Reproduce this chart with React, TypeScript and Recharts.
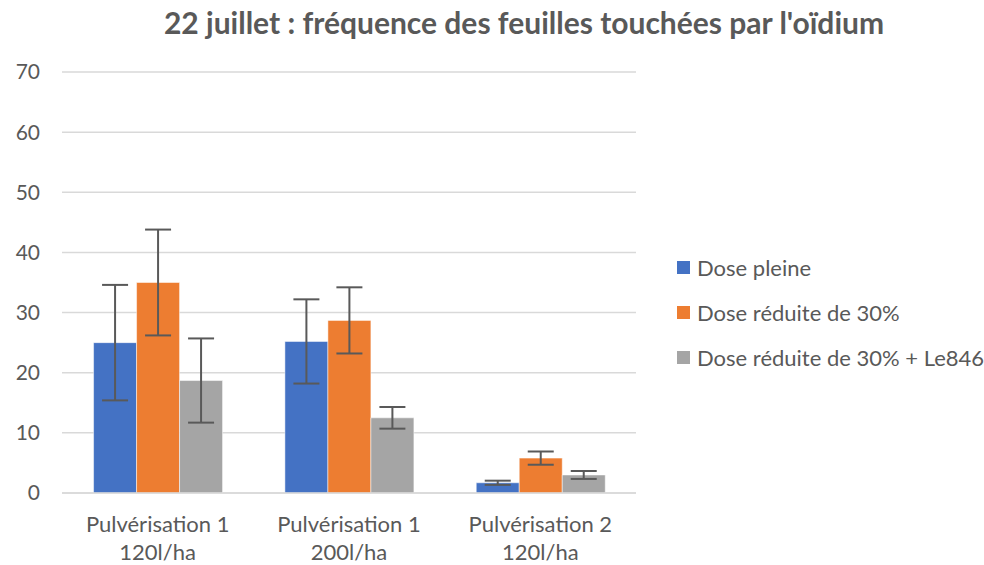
import {
  BarChart,
  Bar,
  XAxis,
  YAxis,
  CartesianGrid,
  ErrorBar,
} from "recharts";

const categories = ["Pulvérisation 1\n120l/ha", "Pulvérisation 1\n200l/ha", "Pulvérisation 2\n120l/ha"];
const dosePleine = [25, 25.2, 1.7];
const doseReduite = [35, 28.7, 5.8];
const doseLe846 = [18.7, 12.5, 3.0];
const errPleine = [9.6, 7, 0.35];
const errReduite = [8.8, 5.5, 1.1];
const errLe846 = [7, 1.8, 0.66];
const yTicks = [0, 10, 20, 30, 40, 50, 60, 70];

const series = [
  { key: "pleine", err: "pleineErr", name: "Dose pleine", color: "#4472C4" },
  { key: "reduite", err: "reduiteErr", name: "Dose réduite de 30%", color: "#ED7D31" },
  { key: "le846", err: "le846Err", name: "Dose réduite de 30% + Le846", color: "#A5A5A5" },
];

const data = categories.map((c, i) => ({
  name: c,
  pleine: dosePleine[i],
  reduite: doseReduite[i],
  le846: doseLe846[i],
  pleineErr: errPleine[i],
  reduiteErr: errReduite[i],
  le846Err: errLe846[i],
}));

const FONT = "Lato, 'Open Sans', sans-serif";

const CategoryTick = ({ x, y, payload }: any) => {
  const lines = String(payload.value).split("\n");
  return (
    <text x={x} y={y} textAnchor="middle" fill="#595959" fontSize={22} fontFamily={FONT}>
      {lines.map((l, i) => (
        <tspan key={i} x={x} dy={i === 0 ? 31 : 28}>
          {l}
        </tspan>
      ))}
    </text>
  );
};

export default function App() {
  return (
    <div style={{ position: "absolute", left: 0, top: 0, width: 984, height: 565, background: "#fff" }}>
      <div
        style={{
          position: "absolute",
          left: 0,
          width: 1048,
          top: 4,
          textAlign: "center",
          fontFamily: FONT,
          fontWeight: 700,
          fontSize: 30,
          color: "#595959",
        }}
      >
        22 juillet : fréquence des feuilles touchées par l'oïdium
      </div>
      <div
        style={{
          position: "absolute",
          left: 677,
          top: 245,
          fontFamily: FONT,
          fontSize: 22,
          color: "#595959",
        }}
      >
        {series.map((s) => (
          <div key={s.key} style={{ display: "flex", alignItems: "center", height: 45, whiteSpace: "nowrap" }}>
            <span style={{ display: "inline-block", width: 13, height: 13, background: s.color, marginRight: 7 }} />
            {s.name}
          </div>
        ))}
      </div>
      <BarChart
        width={984}
        height={565}
        data={data}
        margin={{ top: 72, right: 348, left: 12, bottom: 0 }}
        barCategoryGap="16.5%"
        barGap={0}
      >
        <CartesianGrid vertical={false} stroke="#d9d9d9" strokeWidth={1.5} />
        <XAxis
          dataKey="name"
          height={72}
          tick={<CategoryTick />}
          tickLine={false}
          axisLine={{ stroke: "#d9d9d9", strokeWidth: 1.5 }}
          interval={0}
        />
        <YAxis
          width={50}
          domain={[0, 70]}
          ticks={yTicks}
          tickLine={false}
          axisLine={false}
          tickMargin={16}
          tick={{ fill: "#595959", fontSize: 21, fontFamily: FONT }}
        />
        {series.map((s) => (
          <Bar key={s.key} dataKey={s.key} name={s.name} fill={s.color} stroke="#ffffff" strokeWidth={0.5} isAnimationActive={false}>
            <ErrorBar dataKey={s.err} width={13} stroke="#595959" strokeWidth={2} direction="y" />
          </Bar>
        ))}
      </BarChart>
    </div>
  );
}
